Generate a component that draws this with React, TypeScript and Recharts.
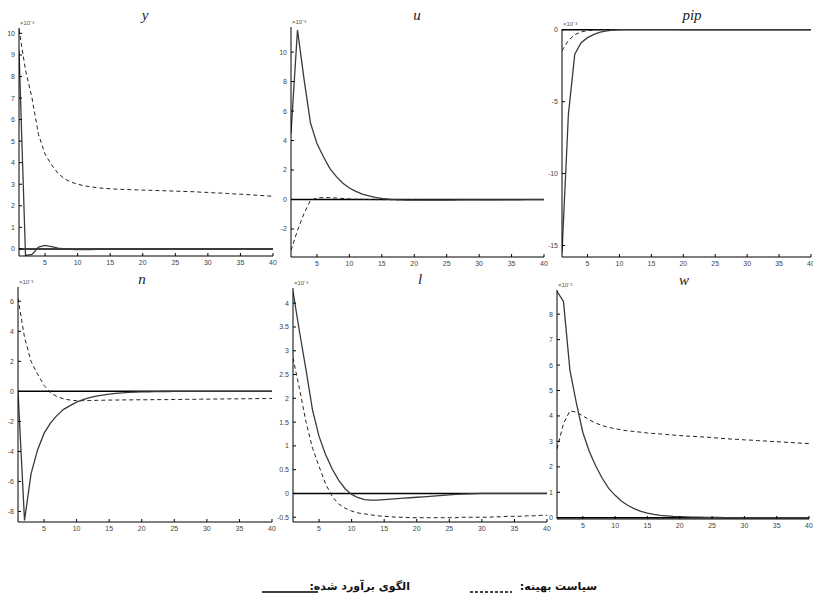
import React from "react";
import { LineChart, Line, XAxis, YAxis, ReferenceLine } from "recharts";

const periods = [1,2,3,4,5,6,7,8,9,10,11,12,13,14,15,16,17,18,19,20,21,22,23,24,25,26,27,28,29,30,31,32,33,34,35,36,37,38,39,40];
const xTicks = [5, 10, 15, 20, 25, 30, 35, 40];

const ySolid = [9.2,-0.3,-0.26,0.08,0.16,0.1,0.04,0.0,-0.02,-0.03,-0.03,-0.03,-0.02,-0.02,-0.02,-0.02,-0.01,-0.01,-0.01,-0.01,-0.01,-0.01,0,0,0,0,0,0,0,0,0,0,0,0,0,0,0,0,0,0];
const yDashed = [10.2,8.3,7.0,5.3,4.4,3.9,3.5,3.25,3.1,3.0,2.93,2.88,2.84,2.81,2.79,2.77,2.76,2.75,2.74,2.73,2.72,2.71,2.7,2.69,2.68,2.67,2.66,2.65,2.63,2.62,2.6,2.59,2.57,2.55,2.54,2.52,2.5,2.48,2.46,2.44];

const uSolid = [4.5,11.5,8.2,5.2,3.8,2.9,2.1,1.55,1.1,0.78,0.55,0.37,0.24,0.14,0.07,0.02,-0.01,-0.03,-0.04,-0.04,-0.04,-0.04,-0.04,-0.04,-0.04,-0.04,-0.03,-0.03,-0.03,-0.03,-0.03,-0.02,-0.02,-0.02,-0.02,-0.02,-0.01,-0.01,-0.01,-0.01];
const uDashed = [-3.45,-2.1,-0.95,-0.05,0.1,0.13,0.12,0.1,0.07,0.04,0.02,0.01,0,-0.01,-0.01,-0.02,-0.02,-0.02,-0.02,-0.02,-0.02,-0.02,-0.02,-0.02,-0.02,-0.01,-0.01,-0.01,-0.01,-0.01,-0.01,-0.01,-0.01,0,0,0,0,0,0,0];

const pipSolid = [-15.5,-5.9,-1.7,-0.9,-0.55,-0.32,-0.17,-0.08,-0.03,0.0,0.02,0.03,0.03,0.03,0.03,0.02,0.02,0.02,0.02,0.01,0.01,0.01,0.01,0.01,0,0,0,0,0,0,0,0,0,0,0,0,0,0,0,0];
const pipDashed = [-1.45,-0.75,-0.35,-0.15,-0.06,-0.02,0,0.01,0.02,0.02,0.02,0.02,0.02,0.02,0.02,0.02,0.02,0.02,0.02,0.02,0.02,0.02,0.02,0.02,0.02,0.02,0.02,0.02,0.02,0.02,0.02,0.02,0.02,0.02,0.02,0.02,0.02,0.02,0.02,0.02];

const nSolid = [0,-8.6,-5.5,-3.9,-2.8,-2.1,-1.6,-1.2,-0.95,-0.72,-0.55,-0.42,-0.32,-0.25,-0.19,-0.14,-0.1,-0.07,-0.05,-0.04,-0.03,-0.02,-0.01,-0.01,0,0,0,0,0,0,0,0,0,0,0,0,0,0,0,0];
const nDashed = [6.2,3.6,2.0,1.15,0.4,-0.1,-0.35,-0.5,-0.58,-0.62,-0.62,-0.61,-0.6,-0.59,-0.58,-0.58,-0.57,-0.57,-0.56,-0.56,-0.56,-0.55,-0.55,-0.55,-0.54,-0.54,-0.53,-0.53,-0.52,-0.52,-0.51,-0.51,-0.5,-0.5,-0.5,-0.49,-0.49,-0.48,-0.48,-0.47];

const lSolid = [4.25,3.4,2.6,1.75,1.2,0.82,0.52,0.28,0.1,-0.02,-0.09,-0.13,-0.14,-0.14,-0.13,-0.12,-0.11,-0.1,-0.09,-0.08,-0.07,-0.06,-0.05,-0.04,-0.03,-0.02,-0.015,-0.01,-0.005,0,0,0,0,0,0,0,0,0,0,0];
const lDashed = [2.85,2.2,1.5,0.95,0.57,0.2,-0.06,-0.22,-0.31,-0.37,-0.41,-0.43,-0.45,-0.47,-0.48,-0.49,-0.5,-0.5,-0.51,-0.51,-0.51,-0.51,-0.51,-0.51,-0.51,-0.51,-0.5,-0.5,-0.5,-0.5,-0.5,-0.49,-0.49,-0.48,-0.48,-0.48,-0.47,-0.47,-0.46,-0.46];

const wSolid = [8.9,8.5,5.8,4.5,3.35,2.6,2.03,1.55,1.15,0.88,0.65,0.48,0.35,0.25,0.18,0.13,0.09,0.07,0.05,0.04,0.03,0.02,0.02,0.01,0.01,0.01,0,0,0,0,0,0,0,0,0,0,0,0,0,0];
const wDashed = [2.7,3.7,4.2,4.15,4.0,3.85,3.72,3.62,3.55,3.5,3.45,3.41,3.39,3.36,3.33,3.31,3.29,3.27,3.25,3.23,3.21,3.2,3.18,3.17,3.15,3.13,3.11,3.09,3.08,3.06,3.05,3.03,3.02,3.0,2.99,2.97,2.96,2.94,2.93,2.91];

const yTicksY = [0,1,2,3,4,5,6,7,8,9,10];
const yTicksU = [-2,0,2,4,6,8,10];
const yTicksPip = [-15,-10,-5,0];
const yTicksN = [-8,-6,-4,-2,0,2,4,6];
const yTicksL = [-0.5,0,0.5,1,1.5,2,2.5,3,3.5,4];
const yTicksW = [0,1,2,3,4,5,6,7,8];

const titles = ["y", "u", "pip", "n", "l", "w"];
const legendSolid = "الگوی برآورد شده:";
const legendDashed = "سیاست بهینه:";
const exponentLabel = "×10⁻³";

type PanelSpec = {
  title: string;
  solid: number[];
  dashed: number[];
  domain: [number, number];
  ticks: number[];
  rect: [number, number, number, number];
  titleX: number;
  titleY: number;
};

const panels: PanelSpec[] = [
  { title: titles[0], solid: ySolid, dashed: yDashed, domain: [-0.33, 10.25], ticks: yTicksY, rect: [19, 28, 273, 256], titleX: 145, titleY: 15 },
  { title: titles[1], solid: uSolid, dashed: uDashed, domain: [-3.9, 11.7], ticks: yTicksU, rect: [291, 27, 544, 257], titleX: 417, titleY: 15 },
  { title: titles[2], solid: pipSolid, dashed: pipDashed, domain: [-15.8, 0.05], ticks: yTicksPip, rect: [562, 29, 811, 257], titleX: 692, titleY: 15 },
  { title: titles[3], solid: nSolid, dashed: nDashed, domain: [-8.7, 6.95], ticks: yTicksN, rect: [18, 287, 272, 522], titleX: 142, titleY: 279 },
  { title: titles[4], solid: lSolid, dashed: lDashed, domain: [-0.6, 4.32], ticks: yTicksL, rect: [293, 288, 547, 522], titleX: 420, titleY: 279 },
  { title: titles[5], solid: wSolid, dashed: wDashed, domain: [-0.05, 8.95], ticks: yTicksW, rect: [557, 290, 809, 519], titleX: 684, titleY: 280 },
];

const YW = 30;
const XH = 16;
const MT = 6;
const MR = 6;

const tickStyle = { fontSize: 7, fill: "#444", fontFamily: "Liberation Sans, Arial, sans-serif" };

function Panel({ p }: { p: PanelSpec }) {
  const [L, T, R, B] = p.rect;
  const data = periods.map((x, i) => ({ x, solid: p.solid[i], dashed: p.dashed[i] }));
  const width = R - L + YW + MR;
  const height = B - T + MT + XH;
  return (
    <>
      <div style={{ position: "absolute", left: L - YW, top: T - MT }}>
        <LineChart width={width} height={height} data={data} margin={{ top: MT, right: MR, left: 0, bottom: 0 }}>
          <XAxis
            dataKey="x"
            type="number"
            domain={[1, 40]}
            ticks={xTicks}
            height={XH}
            tickSize={-3}
            tickMargin={7}
            tick={tickStyle}
            stroke="#000"
            allowDataOverflow
            interval={0}
          />
          <YAxis
            type="number"
            domain={p.domain}
            ticks={p.ticks}
            width={YW}
            tickSize={-3}
            tickMargin={7}
            tick={tickStyle}
            stroke="#000"
            allowDataOverflow
            interval={0}
          />
          <ReferenceLine y={0} stroke="#000" strokeWidth={1.5} />
          <Line dataKey="dashed" stroke="#222" strokeWidth={1} strokeDasharray="4 3" dot={false} isAnimationActive={false} />
          <Line dataKey="solid" stroke="#3a3a3a" strokeWidth={1.3} dot={false} isAnimationActive={false} />
        </LineChart>
      </div>
      <div
        style={{
          position: "absolute",
          left: p.titleX - 30,
          width: 60,
          top: p.titleY - 9,
          textAlign: "center",
          fontFamily: "Liberation Serif, serif",
          fontStyle: "italic",
          fontSize: 15,
          lineHeight: "18px",
          color: "#222",
        }}
      >
        {p.title}
      </div>
      <div
        style={{
          position: "absolute",
          left: L + 1,
          top: T - 9,
          fontFamily: "Liberation Sans, Arial, sans-serif",
          fontSize: 6,
          lineHeight: "8px",
          color: "#555",
          whiteSpace: "nowrap",
        }}
      >
        {exponentLabel}
      </div>
    </>
  );
}

export default function App() {
  return (
    <div style={{ position: "absolute", left: 0, top: 0, width: 813, height: 601, background: "#fff", overflow: "hidden" }}>
      {panels.map((p) => (
        <Panel key={p.title} p={p} />
      ))}
      <svg style={{ position: "absolute", left: 262, top: 590 }} width={56} height={4}>
        <line x1={0} y1={2} x2={56} y2={2} stroke="#000" strokeWidth={1.5} />
      </svg>
      <div
        dir="rtl"
        style={{
          position: "absolute",
          right: 813 - 410,
          top: 580,
          fontFamily: "DejaVu Sans, sans-serif",
          fontSize: 11,
          fontWeight: "bold",
          lineHeight: "14px",
          color: "#111",
          whiteSpace: "nowrap",
        }}
      >
        {legendSolid}
      </div>
      <svg style={{ position: "absolute", left: 470, top: 590 }} width={42} height={4}>
        <line x1={0} y1={2} x2={42} y2={2} stroke="#000" strokeWidth={1.5} strokeDasharray="3 2" />
      </svg>
      <div
        dir="rtl"
        style={{
          position: "absolute",
          right: 813 - 597,
          top: 580,
          fontFamily: "DejaVu Sans, sans-serif",
          fontSize: 11,
          fontWeight: "bold",
          lineHeight: "14px",
          color: "#111",
          whiteSpace: "nowrap",
        }}
      >
        {legendDashed}
      </div>
    </div>
  );
}
